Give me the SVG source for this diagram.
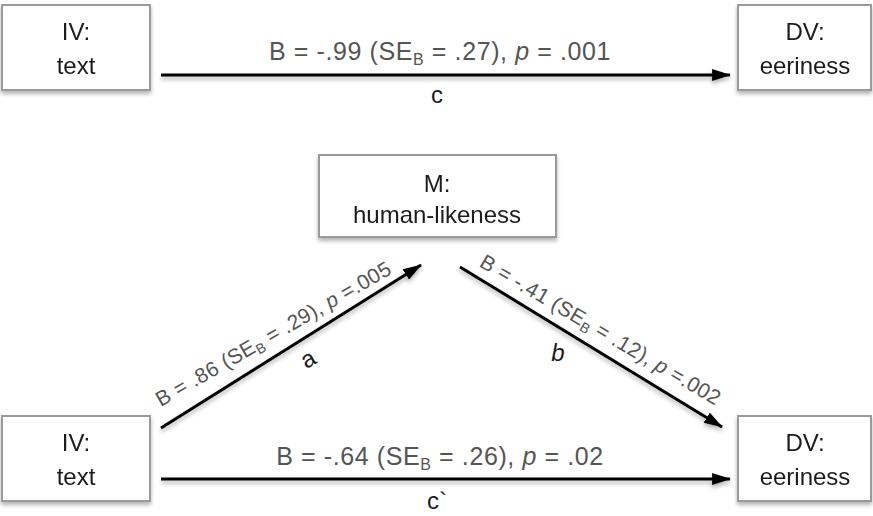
<svg xmlns="http://www.w3.org/2000/svg" width="873" height="516" viewBox="0 0 873 516">
  <defs>
    <filter id="shadow" x="-10%" y="-10%" width="120%" height="130%">
      <feGaussianBlur in="SourceAlpha" stdDeviation="2.2"/>
      <feOffset dx="0" dy="3" result="b"/>
      <feComponentTransfer><feFuncA type="linear" slope="0.3"/></feComponentTransfer>
      <feMerge><feMergeNode/><feMergeNode in="SourceGraphic"/></feMerge>
    </filter>
    <marker id="arrow" viewBox="0 0 19 12" refX="18" refY="6" markerWidth="6.3" markerHeight="4" markerUnits="strokeWidth" orient="auto">
      <path d="M0,0 L19,6 L0,12 z" fill="#000"/>
    </marker>
  </defs>
  <style>
    .box { fill: #fff; stroke: #9a9a9a; stroke-width: 2; }
    .node { font-family: "Liberation Sans", Arial, sans-serif; font-size: 24px; fill: #1a1a1a; text-anchor: middle; }
    .lbl { font-family: "Liberation Sans", Arial, sans-serif; font-size: 25px; letter-spacing: 0.6px; fill: #555; text-anchor: middle; }
    .dlbl { font-family: "Liberation Sans", Arial, sans-serif; font-size: 21px; letter-spacing: 0.3px; fill: #555; text-anchor: middle; }
    .tag { font-family: "Liberation Sans", Arial, sans-serif; font-size: 24px; fill: #1a1a1a; text-anchor: middle; }
    .edge { stroke: #000; stroke-width: 3; fill: none; marker-end: url(#arrow); }
  </style>
  <rect width="873" height="516" fill="#fff"/>

  <!-- total effect model -->
  <g id="iv-top" filter="url(#shadow)">
    <rect class="box" x="2" y="5" width="148" height="85"/>
    <text class="node" x="76" y="40">IV:</text>
    <text class="node" x="76" y="74">text</text>
  </g>
  <g id="dv-top" filter="url(#shadow)">
    <rect class="box" x="738" y="5" width="133" height="85"/>
    <text class="node" x="805" y="40">DV:</text>
    <text class="node" x="805" y="74">eeriness</text>
  </g>

  <!-- mediation model -->
  <g id="m" filter="url(#shadow)">
    <rect class="box" x="319" y="155" width="237" height="82"/>
    <text class="node" x="437" y="192">M:</text>
    <text class="node" x="437" y="223">human-likeness</text>
  </g>
  <g id="iv-bottom" filter="url(#shadow)">
    <rect class="box" x="2" y="416" width="148" height="85"/>
    <text class="node" x="76" y="451">IV:</text>
    <text class="node" x="76" y="485">text</text>
  </g>
  <g id="dv-bottom" filter="url(#shadow)">
    <rect class="box" x="738" y="416" width="133" height="85"/>
    <text class="node" x="805" y="451">DV:</text>
    <text class="node" x="805" y="485">eeriness</text>
  </g>

  <g id="connectors" filter="url(#shadow)">
    <line class="edge" x1="161" y1="75" x2="730" y2="75"/>
    <line class="edge" x1="161" y1="428" x2="421" y2="265"/>
    <line class="edge" x1="460" y1="267" x2="722" y2="427"/>
    <line class="edge" x1="161" y1="479" x2="730" y2="479"/>
  </g>

  <g id="labels">
    <text class="lbl" x="440" y="60">B = -.99 (SE<tspan font-size="16" dy="5">B</tspan><tspan dy="-5"> = .27), </tspan><tspan font-style="italic">p</tspan> = .001</text>
    <text class="tag" x="437" y="103">c</text>

    <text class="dlbl" transform="translate(277,340) rotate(-30)">B = .86 (SE<tspan font-size="14" dy="4">B</tspan><tspan dy="-4"> = .29), </tspan><tspan font-style="italic">p</tspan> =.005</text>
    <text class="tag" transform="translate(312,366) rotate(-30)">a</text>

    <text class="dlbl" transform="translate(597,336) rotate(30.5)">B = -.41 (SE<tspan font-size="14" dy="4">B</tspan><tspan dy="-4"> = .12), </tspan><tspan font-style="italic">p</tspan> =.002</text>
    <text class="tag" font-style="italic" x="558" y="361">b</text>

    <text class="lbl" x="440" y="465">B = -.64 (SE<tspan font-size="16" dy="5">B</tspan><tspan dy="-5"> = .26), </tspan><tspan font-style="italic">p</tspan> = .02</text>
    <text class="tag" x="437" y="509">c`</text>
  </g>
</svg>
